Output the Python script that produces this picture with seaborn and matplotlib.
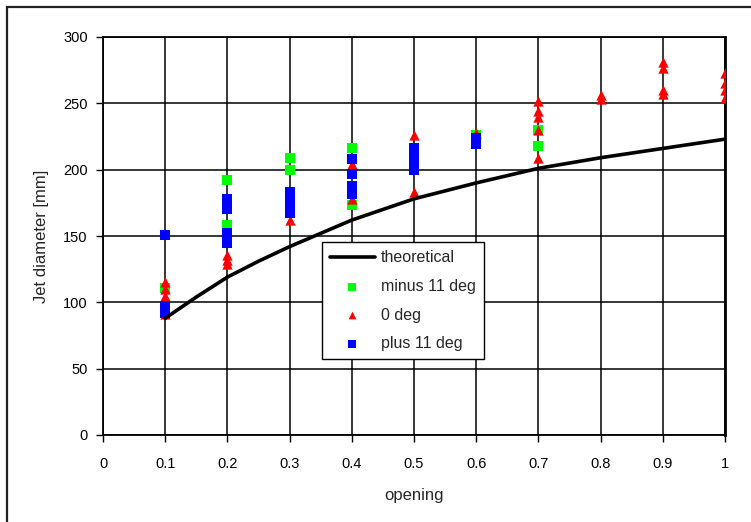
import matplotlib
matplotlib.use("Agg")
import matplotlib.pyplot as plt
from matplotlib.patches import Rectangle
import seaborn as sns
import pandas as pd

# ---- data ----
theory_x = [0.1, 0.15, 0.2, 0.25, 0.3, 0.4, 0.5, 0.6, 0.7, 0.8, 0.9, 1.0]
theory_y = [88, 104, 119, 131, 142, 162, 178, 190, 201, 209, 216, 223]

minus_x = [0.1, 0.2, 0.2, 0.3, 0.3, 0.4, 0.4, 0.6, 0.7, 0.7]
minus_y = [111, 192, 158, 209, 200, 216, 173, 226, 230, 218]

zero_x = [0.1, 0.1, 0.1, 0.1, 0.2, 0.2, 0.2, 0.3, 0.4, 0.4, 0.5, 0.5, 0.6,
          0.7, 0.7, 0.7, 0.7, 0.7, 0.8, 0.8, 0.9, 0.9, 0.9, 0.9,
          1.0, 1.0, 1.0, 1.0]
zero_y = [115, 110, 105, 91, 136, 132, 129, 162, 204, 178, 226, 183, 228,
          252, 244, 240, 230, 209, 256, 253, 281, 277, 260, 257,
          273, 265, 260, 254]

plus_x = [0.1, 0.1, 0.1, 0.2, 0.2, 0.2, 0.2, 0.3, 0.3, 0.3, 0.3,
          0.4, 0.4, 0.4, 0.4, 0.5, 0.5, 0.5, 0.5, 0.6, 0.6]
plus_y = [151, 97, 92, 178, 170, 152, 145, 183, 177, 172, 167,
          208, 197, 188, 182, 216, 210, 205, 200, 224, 219]

x_ticks = [0, 0.1, 0.2, 0.3, 0.4, 0.5, 0.6, 0.7, 0.8, 0.9, 1]
x_tick_labels = ["0", "0.1", "0.2", "0.3", "0.4", "0.5", "0.6", "0.7", "0.8", "0.9", "1"]
y_ticks = [0, 50, 100, 150, 200, 250, 300]

sns.set_theme(style="white")
plt.rcParams['font.family'] = ['Liberation Sans', 'DejaVu Sans']

fig = plt.figure(figsize=(7.51, 5.22), dpi=100)
ax = fig.add_axes([103/751, 1-435/522, (725-103)/751, (435-37)/522])

# outer chart frame
fig.patches.append(Rectangle((7/751, -0.05), 1.0, 1.05 - 7/522, transform=fig.transFigure,
                             fill=False, edgecolor='#222222', linewidth=1.6, zorder=0))

ax.grid(True, color='black', linewidth=1.1)
ax.set_axisbelow(True)

df_m = pd.DataFrame({"x": minus_x, "y": minus_y})
df_z = pd.DataFrame({"x": zero_x, "y": zero_y})
df_p = pd.DataFrame({"x": plus_x, "y": plus_y})
df_t = pd.DataFrame({"x": theory_x, "y": theory_y})

sns.scatterplot(data=df_m, x="x", y="y", ax=ax, marker='s', color='#00FF00', s=55,
                linewidth=0, label="minus 11 deg", zorder=3)
sns.scatterplot(data=df_z, x="x", y="y", ax=ax, marker='^', color='#FF0000', s=55,
                linewidth=0, label="0 deg", zorder=3)
sns.scatterplot(data=df_p, x="x", y="y", ax=ax, marker='s', color='#0000FF', s=55,
                linewidth=0, label="plus 11 deg", zorder=3)
sns.lineplot(data=df_t, x="x", y="y", ax=ax, color='black', linewidth=2.6,
             label="theoretical", zorder=4)

ax.set_xlim(0, 1)
ax.set_ylim(0, 300)
ax.set_xticks(x_ticks)
ax.set_xticklabels(x_tick_labels)
ax.set_yticks(y_ticks)
ax.tick_params(axis='both', direction='out', length=5, width=1, color='black',
               labelsize=10.5, labelcolor='black', bottom=True, left=True)
ax.tick_params(axis='x', pad=11)
ax.tick_params(axis='y', pad=6)
for sp in ax.spines.values():
    sp.set_color('black')
    sp.set_linewidth(1.3)
ax.spines['right'].set_linewidth(2.0)

ax.set_xlabel("opening", fontsize=12, labelpad=12)
ax.set_ylabel("Jet diameter [mm]", fontsize=12, labelpad=10)

handles, labels = ax.get_legend_handles_labels()
order = [labels.index(l) for l in ["theoretical", "minus 11 deg", "0 deg", "plus 11 deg"]]
leg = ax.legend([handles[i] for i in order], [labels[i] for i in order],
                loc='upper left', bbox_to_anchor=(0.352, 0.484), borderaxespad=0,
                fontsize=11.5, frameon=True, fancybox=False, edgecolor='black',
                framealpha=1, borderpad=0.5, labelspacing=0.85, handlelength=2.8,
                handletextpad=0.4, markerscale=0.75)
leg.get_frame().set_linewidth(1.0)

fig.savefig("out.png", dpi=100)
